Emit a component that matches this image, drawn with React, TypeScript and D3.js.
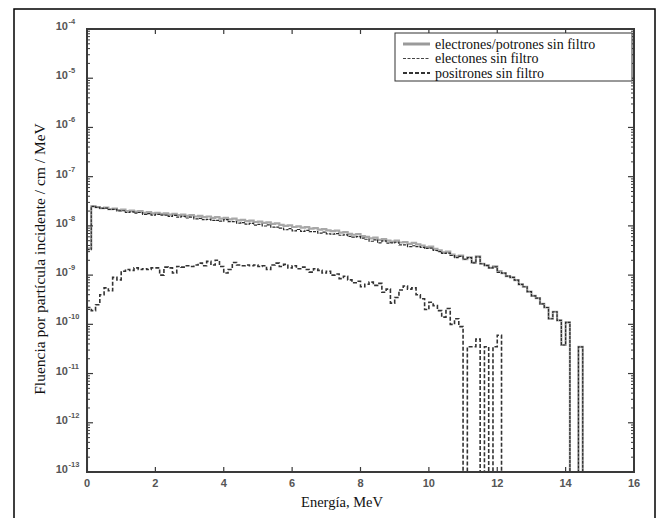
import React from "react";
import * as d3 from "d3";

// Bin width of the histograms (MeV)
const BIN_WIDTH = 0.125;

// Total fluence (electrons + positrons), per bin starting at 0 MeV
const totalFlux = [
  3.5e-9, 2.5e-8, 2.4e-8, 2.3e-8, 2.35e-8, 2.2e-8, 2.25e-8, 2.1e-8,
  2.15e-8, 2.0e-8, 2.05e-8, 1.95e-8, 2.0e-8, 1.85e-8, 1.9e-8, 1.8e-8,
  1.85e-8, 1.75e-8, 1.8e-8, 1.7e-8, 1.75e-8, 1.65e-8, 1.7e-8, 1.6e-8,
  1.65e-8, 1.55e-8, 1.6e-8, 1.5e-8, 1.55e-8, 1.45e-8, 1.5e-8, 1.4e-8,
  1.45e-8, 1.35e-8, 1.4e-8, 1.3e-8, 1.32e-8, 1.25e-8, 1.28e-8, 1.2e-8,
  1.22e-8, 1.15e-8, 1.18e-8, 1.1e-8, 1.12e-8, 1.05e-8, 1.0e-8, 1.02e-8,
  9.5e-9, 9.8e-9, 9.2e-9, 9.4e-9, 8.8e-9, 9.0e-9, 8.4e-9, 8.6e-9,
  8.1e-9, 7.8e-9, 8.0e-9, 7.3e-9, 7.5e-9, 6.9e-9, 6.6e-9, 6.8e-9,
  6.2e-9, 6.0e-9, 5.6e-9, 5.8e-9, 5.2e-9, 5.4e-9, 5.0e-9, 4.8e-9,
  5.0e-9, 4.6e-9, 4.7e-9, 4.3e-9, 4.5e-9, 4.2e-9, 4.0e-9, 3.7e-9,
  3.8e-9, 3.4e-9, 3.2e-9, 2.9e-9, 3.0e-9, 2.6e-9, 2.4e-9, 2.5e-9,
  2.1e-9, 2.3e-9, 1.8e-9, 2.4e-9, 1.7e-9, 1.6e-9, 1.4e-9, 1.5e-9,
  1.2e-9, 1.1e-9, 9.5e-10, 9.0e-10, 7.9e-10, 6.5e-10, 5.8e-10, 4.6e-10,
  3.8e-10, 3.4e-10, 2.6e-10, 2.2e-10, 1.3e-10, 1.8e-10, 1.2e-10, 3.8e-11,
  1.1e-10, 0, 0, 3.5e-11,
];

// Positron fluence, per bin starting at 0 MeV
const positronFlux = [
  2.2e-10, 1.9e-10, 2.5e-10, 4.0e-10, 5.5e-10, 4.8e-10, 9.0e-10, 8.0e-10,
  1.2e-9, 1.3e-9, 1.25e-9, 1.4e-9, 1.3e-9, 1.35e-9, 1.3e-9, 1.4e-9,
  1.4e-9, 1.0e-9, 1.45e-9, 1.4e-9, 1.1e-9, 1.5e-9, 1.45e-9, 1.55e-9,
  1.5e-9, 1.6e-9, 1.75e-9, 1.55e-9, 1.9e-9, 1.6e-9, 2.0e-9, 1.5e-9,
  1.1e-9, 1.3e-9, 1.8e-9, 1.6e-9, 1.55e-9, 1.6e-9, 1.55e-9, 1.6e-9,
  1.5e-9, 1.55e-9, 1.3e-9, 1.6e-9, 1.75e-9, 1.5e-9, 1.65e-9, 1.4e-9,
  1.55e-9, 1.35e-9, 1.45e-9, 1.3e-9, 1.15e-9, 1.35e-9, 1.25e-9, 1.1e-9,
  1.2e-9, 1.0e-9, 1.05e-9, 8.5e-10, 9.5e-10, 8.0e-10, 7.0e-10, 7.5e-10,
  5.8e-10, 6.5e-10, 7.2e-10, 6.2e-10, 6.8e-10, 4.5e-10, 5.2e-10, 2.7e-10,
  3.5e-10, 5.0e-10, 6.0e-10, 5.2e-10, 5.5e-10, 4.0e-10, 3.3e-10, 2.0e-10,
  2.8e-10, 2.4e-10, 1.9e-10, 1.4e-10, 2.1e-10, 1.0e-10, 1.3e-10, 9.0e-11,
  0, 3.5e-11, 3.5e-11, 5.0e-11, 0, 3.5e-11, 0, 3.5e-11,
  6.0e-11,
];

// Electron fluence: total minus positrons
const electronFlux = totalFlux.map((t, i) => Math.max(t - (positronFlux[i] ?? 0), 0));

const xTicks = [0, 2, 4, 6, 8, 10, 12, 14, 16];
const yExponents = [-4, -5, -6, -7, -8, -9, -10, -11, -12, -13];
const legendLabels = [
  "electrones/potrones sin filtro",
  "electones sin filtro",
  "positrones sin filtro",
];
const xTitle = "Energía, MeV";
const yTitle = "Fluencia por partícula incidente / cm  / MeV";

export default function App() {
  const W = 656;
  const H = 518;
  const L = 87, R = 634, T = 29, B = 472;
  const x = d3.scaleLinear().domain([0, 16]).range([L, R]);
  const y = d3.scaleLog().domain([1e-13, 1e-4]).range([B, T]);
  const yv = (v: number) => (v > 0 ? y(v) : B + 10);

  const stepPath = (vals: number[]) => {
    const pts: [number, number][] = [
      [0, 0],
      ...vals.map((v, i) => [i * BIN_WIDTH, v] as [number, number]),
      [vals.length * BIN_WIDTH, 0],
    ];
    return (
      d3
        .line<[number, number]>()
        .x((d) => x(d[0]))
        .y((d) => yv(d[1]))
        .curve(d3.curveStepAfter)(pts) || ""
    );
  };

  const minor: number[] = [];
  for (let e = -13; e < -4; e++) {
    for (let k = 2; k <= 9; k++) minor.push(k * Math.pow(10, e));
  }

  const axisColor = "#3a3a3a";
  const tickFont = "'Liberation Sans', Arial, sans-serif";
  const serif = "'Liberation Serif', 'Times New Roman', serif";

  const lg = { x: 395, y: 33, w: 237, h: 48 };
  const legendStyles = [
    { stroke: "#9a9a9a", width: 3, dash: "" },
    { stroke: "#444", width: 1, dash: "3,1.5" },
    { stroke: "#333", width: 1.8, dash: "4,2" },
  ];

  return (
    <svg
      width={W}
      height={H}
      style={{ position: "absolute", left: 0, top: 0, background: "#fff" }}
    >
      <defs>
        <clipPath id="plotClip">
          <rect x={L} y={T} width={R - L} height={B - T} />
        </clipPath>
      </defs>
      {/* outer frame */}
      <rect x={14} y={9} width={641} height={530} fill="none" stroke="#000" strokeWidth={1.5} />

      {/* data */}
      <g clipPath="url(#plotClip)">
        <path d={stepPath(totalFlux)} fill="none" stroke="#a8a8a8" strokeWidth={2.2} />
        <path d={stepPath(electronFlux)} fill="none" stroke="#2a2a2a" strokeWidth={1.2} strokeDasharray="3,1" />
        <path d={stepPath(positronFlux)} fill="none" stroke="#333" strokeWidth={1.6} strokeDasharray="4,2" />
      </g>

      {/* axes box */}
      <rect x={L} y={T} width={R - L} height={B - T} fill="none" stroke={axisColor} strokeWidth={2} />

      {/* x ticks */}
      {xTicks.map((t) => (
        <g key={"xt" + t}>
          <line x1={x(t)} x2={x(t)} y1={B} y2={B - 5} stroke={axisColor} strokeWidth={1.2} />
          <line x1={x(t)} x2={x(t)} y1={T} y2={T + 5} stroke={axisColor} strokeWidth={1.2} />
          <text
            x={x(t)}
            y={B + 15}
            textAnchor="middle"
            fontFamily={tickFont}
            fontSize={11}
            fontWeight="bold"
            fill="#555"
          >
            {t}
          </text>
        </g>
      ))}

      {/* y ticks */}
      {yExponents.map((e) => {
        const yy = y(Math.pow(10, e));
        return (
          <g key={"yt" + e}>
            <line x1={L} x2={L + 6} y1={yy} y2={yy} stroke={axisColor} strokeWidth={1.2} />
            <line x1={R} x2={R - 6} y1={yy} y2={yy} stroke={axisColor} strokeWidth={1.2} />
            <text x={68} y={yy + 1} textAnchor="end" fontFamily={tickFont} fontSize={11} fontWeight="bold" fill="#555">
              10
            </text>
            <text x={68.5} y={yy - 5} textAnchor="start" fontFamily={tickFont} fontSize={7.5} fontWeight="bold" fill="#555">
              {"-" + Math.abs(e)}
            </text>
          </g>
        );
      })}
      {minor.map((v, i) => (
        <g key={"ym" + i}>
          <line x1={L} x2={L + 3} y1={y(v)} y2={y(v)} stroke={axisColor} strokeWidth={1} />
          <line x1={R} x2={R - 3} y1={y(v)} y2={y(v)} stroke={axisColor} strokeWidth={1} />
        </g>
      ))}

      {/* axis titles */}
      <text x={342} y={507} textAnchor="middle" fontFamily={serif} fontSize={14.5} fill="#111">
        {xTitle}
      </text>
      <text
        transform={`translate(45, 259) rotate(-90)`}
        textAnchor="middle"
        fontFamily={serif}
        fontSize={15.5}
        fill="#111"
      >
        {yTitle}
      </text>

      {/* legend */}
      <rect x={lg.x} y={lg.y} width={lg.w} height={lg.h} fill="#fff" stroke="#333" strokeWidth={1} />
      {legendLabels.map((lab, i) => {
        const yy = lg.y + 11 + i * 14.5;
        const s = legendStyles[i];
        return (
          <g key={"lg" + i}>
            <line
              x1={403}
              x2={430}
              y1={yy}
              y2={yy}
              stroke={s.stroke}
              strokeWidth={s.width}
              strokeDasharray={s.dash || undefined}
            />
            <text x={435} y={yy + 4.5} fontFamily={serif} fontSize={14} fill="#111">
              {lab}
            </text>
          </g>
        );
      })}
    </svg>
  );
}
